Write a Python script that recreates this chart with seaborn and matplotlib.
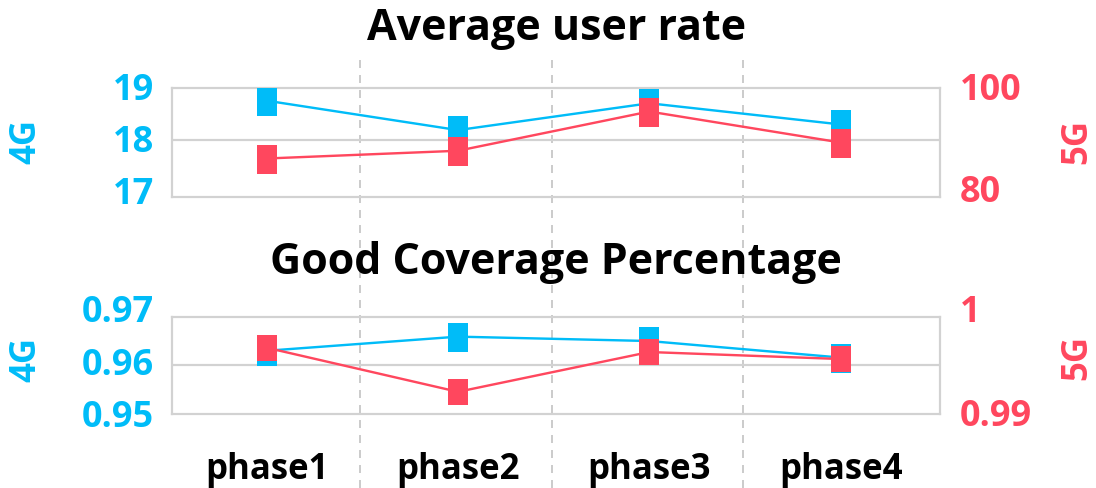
import numpy as np
import pandas as pd
import matplotlib
matplotlib.use("Agg")
import matplotlib.pyplot as plt
from matplotlib.path import Path
from matplotlib.transforms import ScaledTranslation
import seaborn as sns

# ---------------- data ----------------
phases = ["phase1", "phase2", "phase3", "phase4"]
rate_4g = [18.76, 18.19, 18.71, 18.30]
rate_5g = [86.4, 87.9, 95.5, 89.5]
cov_4g = [0.9630, 0.9659, 0.9650, 0.9616]
cov_5g = [0.99681, 0.99228, 0.99637, 0.99565]
rate_4g_ticks = [17, 18, 19]
rate_5g_ticks = [80, 100]
cov_4g_ticks = [0.95, 0.96, 0.97]
cov_5g_ticks = [0.99, 1]
cov_4g_ticklabels = ["0.95", "0.96", "0.97"]
cov_5g_ticklabels = ["0.99", "1"]

BLUE = "#00bcf8"
RED = "#ff475e"
GRID = "#d2d2d2"
DPI = 100
W, H = 1096, 488

sns.set_theme(style="white")
plt.rcParams["font.family"] = ["Open Sans", "DejaVu Sans"]
plt.rcParams["font.weight"] = "bold"

fig = plt.figure(figsize=(W / DPI, H / DPI), dpi=DPI)
fig.patch.set_facecolor("white")

def px(v):
    return v * 72.0 / DPI

def rect_marker(w, h):
    verts = [(-w / h, -1), (w / h, -1), (w / h, 1), (-w / h, 1), (-w / h, -1)]
    codes = [Path.MOVETO, Path.LINETO, Path.LINETO, Path.LINETO, Path.CLOSEPOLY]
    return Path(verts, codes)

def shift_labels(axis, shifts_px, which=1):
    for tick, dy in zip(axis.get_major_ticks(), shifts_px):
        lab = tick.label1 if which == 1 else tick.label2
        lab.set_transform(lab.get_transform() +
                          ScaledTranslation(0, dy / DPI, fig.dpi_scale_trans))

x = np.arange(len(phases))
XLIM = (-0.495, 3.52)
L, R = 172, 940

# dashed separators overlay
ov = fig.add_axes([L / W, 0, (R - L) / W, (H - 58) / H], zorder=0)
ov.set_xlim(*XLIM)
ov.set_ylim(0, 1)
ov.axis("off")
for i in range(len(phases) - 1):
    ov.axvline(i + 0.49, color="#cccccc", lw=px(2), dashes=(4, 3.5))

def panel(top, bottom, ylim_l, ylim_r, y_l, y_r, ticks_l, ticks_r,
          tl_l, tl_r, grid_val, red_h, show_x, sh_l, sh_r):
    ax = fig.add_axes([L / W, (H - bottom) / H, (R - L) / W, (bottom - top) / H], zorder=2)
    ax.patch.set_alpha(0)
    df = pd.DataFrame({"x": x, "v4": y_l, "v5": y_r})
    ax.axhline(grid_val, color=GRID, lw=px(2.2), zorder=0.5)
    sns.lineplot(data=df, x="x", y="v4", ax=ax, color=BLUE, lw=px(2.4),
                 marker=rect_marker(20, 29), markersize=px(29),
                 markeredgewidth=0, sort=False, zorder=3)
    ax.set_xlim(*XLIM)
    ax.set_ylim(*ylim_l)
    ax.set_yticks(ticks_l)
    ax.set_yticklabels(tl_l)
    for s in ax.spines.values():
        s.set_color(GRID)
        s.set_linewidth(px(2.2))
    ax.tick_params(axis="y", length=0, pad=px(18), labelsize=26,
                   labelcolor=BLUE)
    ax.set_xticks(x)
    if show_x:
        ax.set_xticklabels(phases)
        ax.tick_params(axis="x", length=0, pad=px(38), labelsize=25,
                       labelcolor="black")
    else:
        ax.set_xticklabels([])
        ax.tick_params(axis="x", length=0)
    ax.set_xlabel("")
    ax.set_ylabel("")
    ax.grid(False)
    for t in ax.get_yticklabels() + ax.get_xticklabels():
        t.set_fontweight("bold")
    shift_labels(ax.yaxis, sh_l, 1)

    ax2 = ax.twinx()
    sns.lineplot(data=df, x="x", y="v5", ax=ax2, color=RED, lw=px(2.4),
                 marker=rect_marker(20, red_h), markersize=px(red_h),
                 markeredgewidth=0, sort=False, zorder=3)
    ax2.set_ylim(*ylim_r)
    ax2.set_yticks(ticks_r)
    ax2.set_yticklabels(tl_r)
    ax2.set_ylabel("")
    ax2.grid(False)
    for s in ax2.spines.values():
        s.set_visible(False)
    ax2.tick_params(axis="y", length=0, pad=px(20), labelsize=26,
                    labelcolor=RED)
    for t in ax2.get_yticklabels():
        t.set_fontweight("bold")
    shift_labels(ax2.yaxis, sh_r, 2)
    ax.set_xlim(*XLIM)
    return ax, ax2

panel(88.3, 196.7, (16.9, 19.0), (79.0, 100.0), rate_4g, rate_5g,
      rate_4g_ticks, rate_5g_ticks, [str(t) for t in rate_4g_ticks],
      [str(t) for t in rate_5g_ticks], rate_4g_ticks[1], 29, False,
      [1, 1, 1.5], [3, 1.5])
panel(316.7, 414, (0.95, 0.97), (0.99, 1.0), cov_4g, cov_5g,
      cov_4g_ticks, cov_5g_ticks, cov_4g_ticklabels, cov_5g_ticklabels,
      cov_4g_ticks[1], 26, True, [0.5, 3.5, 8.5], [1.5, 8.5])

fig.text(556.5 / W, 1 - 28 / H, "Average user rate", ha="center", va="center",
         fontsize=31, fontweight="bold", color="black", zorder=5)
fig.text(556 / W, 1 - 262 / H, "Good Coverage Percentage", ha="center",
         va="center", fontsize=31, fontweight="bold", color="black", zorder=5)
fig.text(26 / W, 1 - 142 / H, "4G", rotation=90, ha="center", va="center",
         fontsize=25, fontweight="bold", color=BLUE)
fig.text(26 / W, 1 - 360 / H, "4G", rotation=90, ha="center", va="center",
         fontsize=25, fontweight="bold", color=BLUE)
fig.text(1077 / W, 1 - 142 / H, "5G", rotation=90, ha="center", va="center",
         fontsize=25, fontweight="bold", color=RED)
fig.text(1077 / W, 1 - 357 / H, "5G", rotation=90, ha="center", va="center",
         fontsize=25, fontweight="bold", color=RED)

fig.savefig("out.png", dpi=DPI, facecolor="white")
